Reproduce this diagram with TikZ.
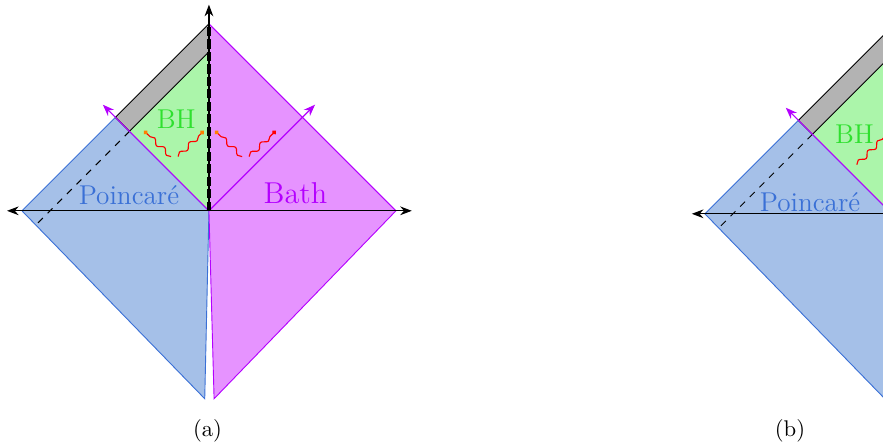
\documentclass[tikz,border=0pt]{standalone}
\usepackage{tikz}
\usetikzlibrary{arrows.meta,decorations.pathmorphing}
\definecolor{pblue}{HTML}{A5C0E8}
\definecolor{pline}{HTML}{3A70D6}
\definecolor{bathfill}{HTML}{E693FF}
\definecolor{bline}{HTML}{B400FF}
\definecolor{bhfill}{HTML}{ABF5AA}
\definecolor{bhtext}{HTML}{2FE02F}
\definecolor{band}{HTML}{B3B3B3}
\tikzset{
  poinc/.style={draw=pline,fill=pblue,line width=0.4pt},
  bathreg/.style={draw=bline,fill=bathfill,line width=0.4pt},
  bhreg/.style={fill=bhfill},
  bandreg/.style={draw=black,fill=band,line width=0.4pt},
  axis/.style={-{Stealth[length=1.8mm]},black,line width=0.5pt},
  null/.style={-{Stealth[length=1.8mm]},draw=bline,line width=0.5pt},
  horizon/.style={dashed,black,line width=0.45pt},
  brane/.style={black,line width=1.8pt,dash pattern=on 4pt off 1.5pt},
  rad/.style={red,line width=0.5pt,decorate,decoration={snake,amplitude=1pt,segment length=6pt,post length=1pt},-{Circle[length=2pt,color=orange]}},
  lbl/.style={font=\large},
  sublabel/.style={font=\normalsize}
}
\begin{document}
\begin{tikzpicture}[x=0.724cm,y=0.724cm]
  \useasboundingbox (-4.47,-4.96) rectangle (14.42,4.51);
  % (a)
  \coordinate (O) at (0,0);
  \coordinate (T) at (0,4);
  \coordinate (L) at (-4,0);
  \coordinate (R) at (4,0);
  \coordinate (Bl) at (-0.09,-4.02);
  \coordinate (Br) at (0.11,-4.02);
  \coordinate (G) at (-2,2);
  \coordinate (H) at (-1.7,1.7);
  \coordinate (Ht) at (0,3.4);
  \coordinate (nl) at (-2.27,2.27);
  \coordinate (nr) at (2.27,2.27);
  \coordinate (hd) at (-3.72,-0.32);
  \coordinate (xl) at (-4.32,0);
  \coordinate (xr) at (4.34,0);
  \coordinate (yt) at (0,4.41);
  \filldraw[poinc] (L) -- (G) -- (O) -- (Bl) -- cycle;
  \filldraw[bathreg] (T) -- (R) -- (Br) -- (O) -- cycle;
  \fill[bhreg] (Ht) -- (H) -- (O) -- cycle;
  \filldraw[bandreg] (T) -- (G) -- (H) -- (Ht) -- cycle;
  \draw[horizon] (H) -- (hd);
  \draw[null] (O) -- (nl);
  \draw[null] (O) -- (nr);
  \draw[axis,{Stealth[length=1.8mm]}-{Stealth[length=1.8mm]}] (xl) -- (xr);
  \draw[axis] (O) -- (yt);
  \draw[brane] (O) -- (T);
  % hawking quanta
  \coordinate (r1) at (-0.81,1.16); \coordinate (s1) at (-1.39,1.71);
  \coordinate (r2) at (-0.66,1.16); \coordinate (s2) at (-0.11,1.71);
  \coordinate (r3) at (0.71,1.16);  \coordinate (s3) at (0.13,1.71);
  \coordinate (r4) at (0.86,1.16);  \coordinate (s4) at (1.43,1.71);
  \draw[rad] (r1) -- (s1);
  \draw[rad] (r2) -- (s2);
  \draw[rad] (r3) -- (s3);
  \draw[rad,-{Circle[length=2pt,color=red]}] (r4) -- (s4);
  \node[lbl,text=bhtext] (bh) at (-0.70,1.96) {BH};
  \node[lbl,text=pline] (poinc) at (-1.71,0.34) {Poincar\'e};
  \node[font=\fontsize{13.3}{16}\selectfont,text=bline] (bath) at (1.85,0.37) {Bath};
  \node[sublabel] (capa) at (-0.03,-4.71) {(a)};
  % (b)
  \begin{scope}[shift={(14.61,-0.064)},name prefix=b-]
    \coordinate (O) at (0,0);
    \coordinate (L) at (-4,0);
    \coordinate (T) at (0,4);
    \coordinate (Bl) at (-0.09,-4.02);
    \coordinate (G) at (-2,2);
    \coordinate (H) at (-1.7,1.7);
    \coordinate (Ht) at (0,3.4);
    \coordinate (nl) at (-2.27,2.27);
    \coordinate (hd) at (-3.72,-0.32);
    \coordinate (xl) at (-4.28,0);
    \coordinate (r1) at (-0.75,1.05); \coordinate (s1) at (-0.1,1.7);
    \filldraw[poinc] (L) -- (G) -- (O) -- (Bl) -- cycle;
    \fill[bhreg] (Ht) -- (H) -- (O) -- cycle;
    \filldraw[bandreg] (T) -- (G) -- (H) -- (Ht) -- cycle;
    \draw[horizon] (H) -- (hd);
    \draw[null] (O) -- (nl);
    \draw[axis] (O) -- (xl);
    \draw[rad] (r1) -- (s1);
    \node[lbl,text=bhtext] (bh) at (-0.80,1.71) {BH};
    \node[lbl,text=pline] (poinc) at (-1.75,0.25) {Poincar\'e};
  \end{scope}
  \node[sublabel] (capb) at (12.43,-4.71) {(b)};
\end{tikzpicture}
\end{document}
